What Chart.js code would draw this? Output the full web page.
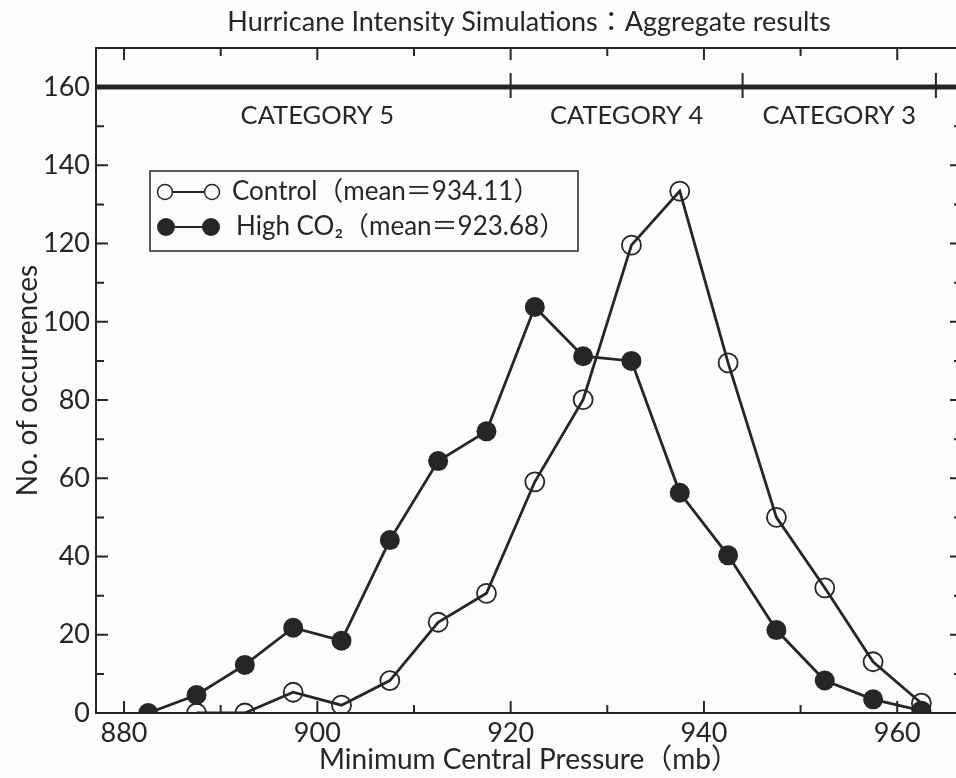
<!DOCTYPE html>
<html>
<head>
<meta charset="utf-8">
<script src="https://cdn.jsdelivr.net/npm/chart.js@4.4.1/dist/chart.umd.min.js"></script>
<style>
  html, body { margin: 0; padding: 0; background: #fcfcfc; overflow: hidden; }
  #wrap { position: relative; width: 975px; height: 778px; }
</style>
</head>
<body>
<div id="wrap"><canvas id="chart"></canvas></div>
<script>
// --- data ---
const pressure = [882.5, 887.5, 892.5, 897.5, 902.5, 907.5, 912.5, 917.5, 922.5,
                  927.5, 932.5, 937.5, 942.5, 947.5, 952.5, 957.5, 962.5];
const controlCounts = [null, 0, 0, 5.3, 2, 8.3, 23.2, 30.6, 59.1,
                       80.1, 119.6, 133.4, 89.5, 50, 32, 13.1, 2.5];
const highCO2Counts = [0, 4.6, 12.3, 21.8, 18.5, 44.2, 64.4, 72, 103.8,
                       91.2, 90, 56.3, 40.3, 21.2, 8.3, 3.5, 0.6];

const xTickValues = [880, 890, 900, 910, 920, 930, 940, 950, 960];
const xTickLabels = [880, 900, 920, 940, 960];
const yTickValues = [0, 10, 20, 30, 40, 50, 60, 70, 80, 90, 100, 110, 120, 130, 140, 150, 160, 170];
const yTickLabels = [0, 20, 40, 60, 80, 100, 120, 140, 160];

const categoryNames = ['CATEGORY 5', 'CATEGORY 4', 'CATEGORY 3'];
const categoryBounds = [880, 920, 944, 964];
const categoryLevel = 160;

const legendLabels = ['Control（mean＝934.11）', 'High CO₂（mean＝923.68）'];

// --- styling ---
const INK = '#262626';
const FONT = 'Lato, "Noto Sans CJK JP", sans-serif';

function toPoints(values) {
    return pressure
        .map((p, i) => ({ x: p, y: values[i] }))
        .filter(pt => pt.y !== null);
}

// frame, inward tick marks, category bar and the boxed legend
const decorations = {
    id: 'decorations',
    beforeDatasetsDraw(chart) {
        const { ctx, chartArea: a, scales: { x, y } } = chart;
        ctx.save();
        ctx.strokeStyle = INK;
        ctx.lineWidth = 2;
        ctx.strokeRect(a.left, a.top, a.right - a.left, a.bottom - a.top);

        ctx.beginPath();
        xTickValues.forEach(v => {
            const px = x.getPixelForValue(v);
            const len = xTickLabels.includes(v) ? 12 : 8;
            ctx.moveTo(px, a.bottom); ctx.lineTo(px, a.bottom - len);
            ctx.moveTo(px, a.top); ctx.lineTo(px, a.top + len);
        });
        yTickValues.forEach(v => {
            const py = y.getPixelForValue(v);
            const len = yTickLabels.includes(v) ? 12 : 8;
            ctx.moveTo(a.left, py); ctx.lineTo(a.left + len, py);
            ctx.moveTo(a.right, py); ctx.lineTo(a.right - len, py);
        });
        ctx.stroke();

        // thick category bar at 160
        const barY = y.getPixelForValue(categoryLevel);
        ctx.lineWidth = 5;
        ctx.beginPath();
        ctx.moveTo(a.left, barY); ctx.lineTo(a.right, barY);
        ctx.stroke();

        ctx.lineWidth = 2;
        ctx.beginPath();
        categoryBounds.slice(1).forEach(v => {
            const px = x.getPixelForValue(v);
            ctx.moveTo(px, barY - 14); ctx.lineTo(px, barY + 11);
        });
        ctx.stroke();

        ctx.fillStyle = INK;
        ctx.font = '25.5px ' + FONT;
        ctx.textAlign = 'center';
        ctx.textBaseline = 'middle';
        categoryNames.forEach((name, i) => {
            const mid = (categoryBounds[i] + categoryBounds[i + 1]) / 2;
            ctx.fillText(name, x.getPixelForValue(mid), barY + 29);
        });
        ctx.restore();
    },
    afterDatasetsDraw(chart) {
        const { ctx } = chart;
        ctx.save();
        ctx.strokeStyle = INK;
        ctx.fillStyle = INK;
        ctx.lineWidth = 1.5;
        ctx.strokeRect(150, 171, 428, 80);

        const rows = [192, 227];
        // markers
        ctx.lineWidth = 2;
        ctx.beginPath();
        ctx.moveTo(165, rows[0]); ctx.lineTo(212, rows[0]);
        ctx.moveTo(166, rows[1]); ctx.lineTo(211, rows[1]);
        ctx.stroke();
        ctx.lineWidth = 1.5;
        [165, 212].forEach(cx => {
            ctx.beginPath();
            ctx.fillStyle = '#fcfcfc';
            ctx.arc(cx, rows[0], 7.5, 0, Math.PI * 2);
            ctx.fill();
            ctx.stroke();
        });
        ctx.fillStyle = INK;
        [166, 211].forEach(cx => {
            ctx.beginPath();
            ctx.arc(cx, rows[1], 9, 0, Math.PI * 2);
            ctx.fill();
        });

        ctx.font = '26px ' + FONT;
        ctx.textAlign = 'left';
        ctx.textBaseline = 'middle';
        ctx.fillText(legendLabels[0], 232, rows[0]);
        ctx.fillText(legendLabels[1], 236, rows[1]);
        ctx.restore();
    }
};

new Chart(document.getElementById('chart'), {
    type: 'line',
    data: {
        datasets: [{
            label: legendLabels[1],
            data: toPoints(highCO2Counts),
            order: 0,
            borderColor: INK,
            borderWidth: 2.8,
            pointRadius: 10,
            pointBackgroundColor: INK,
            pointBorderColor: INK,
            pointBorderWidth: 0,
            tension: 0
        }, {
            label: legendLabels[0],
            data: toPoints(controlCounts),
            order: 1,
            borderColor: INK,
            borderWidth: 2.8,
            pointRadius: 9.5,
            pointBackgroundColor: 'rgba(0,0,0,0)',
            pointBorderColor: INK,
            pointBorderWidth: 1.8,
            tension: 0
        }]
    },
    options: {
        responsive: true,
        maintainAspectRatio: false,
        animation: false,
        events: [],
        layout: { padding: { left: 0, right: 13, top: 0, bottom: 0 } },
        plugins: {
            legend: { display: false },
            tooltip: { enabled: false },
            title: {
                display: true,
                fullSize: false,
                text: 'Hurricane Intensity Simulations：Aggregate results',
                color: INK,
                font: { family: FONT, size: 27, weight: 'normal' },
                padding: { top: 6, bottom: 9.6 }
            }
        },
        scales: {
            x: {
                type: 'linear',
                min: 877.1,
                max: 966.7,
                afterBuildTicks: s => { s.ticks = xTickLabels.map(v => ({ value: v })); },
                afterFit: s => { s.height = 65; },
                grid: { display: false, drawTicks: false },
                border: { display: false },
                ticks: {
                    color: INK,
                    font: { family: FONT, size: 27 },
                    padding: 4,
                    maxRotation: 0,
                    autoSkip: false
                },
                title: {
                    display: true,
                    text: 'Minimum Central Pressure（mb）',
                    color: INK,
                    font: { family: FONT, size: 28 },
                    padding: { top: 0, bottom: 1 }
                }
            },
            y: {
                min: 0,
                max: 170,
                afterBuildTicks: s => { s.ticks = yTickLabels.map(v => ({ value: v })); },
                afterFit: s => { s.width = 96; },
                grid: { display: false, drawTicks: false },
                border: { display: false },
                ticks: {
                    color: INK,
                    font: { family: FONT, size: 27 },
                    padding: 6
                },
                title: {
                    display: true,
                    text: 'No. of occurrences',
                    color: INK,
                    font: { family: FONT, size: 28 },
                    padding: { top: 11, bottom: 0 }
                }
            }
        }
    },
    plugins: [decorations]
});
</script>
</body>
</html>
